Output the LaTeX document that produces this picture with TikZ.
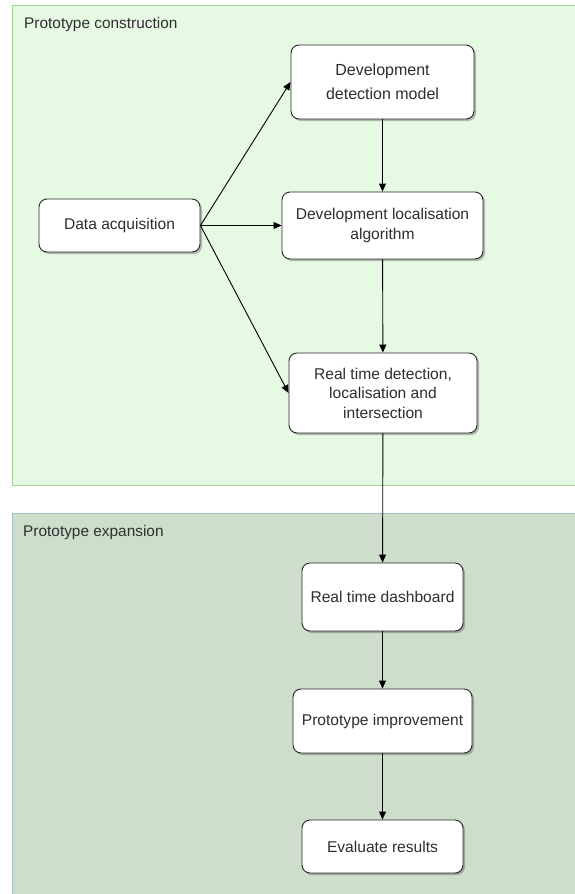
\documentclass[tikz,border=0pt]{standalone}
\usepackage{fontspec}
\setmainfont{Liberation Sans}
\usetikzlibrary{arrows.meta,shadows}
\definecolor{topfill}{HTML}{E6F9E3}
\definecolor{topline}{HTML}{A3D196}
\definecolor{botfill}{HTML}{CDDECB}
\definecolor{botline}{HTML}{A5BCCB}
\definecolor{txt}{HTML}{2E2E2E}
\tikzset{
  box/.style={draw=black!85, fill=white, rounded corners=8pt, line width=0.9pt,
    align=center, inner sep=0pt, text=txt,
    font=\fontsize{15.6}{19.5}\selectfont,
    drop shadow={shadow xshift=2pt, shadow yshift=-2pt, opacity=0.25, fill=black}},
  conn/.style={-{Triangle[length=8pt,width=7pt]}, line width=0.9pt, black},
  lbl/.style={anchor=west, text=txt, font=\fontsize{15.4}{18}\selectfont, inner sep=0pt}
}
\begin{document}
\begin{tikzpicture}[x=1pt,y=-1pt]
\useasboundingbox (0,0) rectangle (575,894);
\fill[white] (0,0) rectangle (575,894);
% containers
\draw[fill=topfill, draw=topline, line width=0.8pt] (576,5) -- (12,5) -- (12,485) -- (576,485);
\draw[fill=botfill, draw=botline, line width=0.8pt] (576,513) -- (12,513) -- (12,895) -- (576,895);
\node[lbl] (t1) at (24,25) {Prototype construction};
\node[lbl] (t2) at (23,533) {Prototype expansion};
% nodes
\node[box, minimum width=183pt, minimum height=74pt, font=\fontsize{16}{24}\selectfont] (dm) at (382.5,82) {Development\\detection model};
\node[box, minimum width=201pt, minimum height=67pt] (la) at (382.5,225.5) {Development localisation\\algorithm};
\node[box, minimum width=188pt, minimum height=80pt] (rt) at (383,393) {Real time detection,\\localisation and\\intersection};
\node[box, minimum width=161pt, minimum height=53pt] (da) at (119.5,225.5) {Data acquisition};
\node[box, minimum width=161pt, minimum height=68pt] (db) at (382.5,597) {Real time dashboard};
\node[box, minimum width=179pt, minimum height=64pt] (pi) at (382.5,721) {Prototype improvement};
\node[box, minimum width=161pt, minimum height=53pt] (er) at (382.5,846.5) {Evaluate results};
% connectors
\draw[conn] (da.east) -- (dm.west);
\draw[conn] (da.east) -- (la.west);
\draw[conn] (da.east) -- (rt.west);
\draw[conn] (dm) -- (la);
\draw[conn] (la) -- (rt);
\draw[conn] (rt) -- (db);
\draw[conn] (db) -- (pi);
\draw[conn] (pi) -- (er);
\end{tikzpicture}
\end{document}
